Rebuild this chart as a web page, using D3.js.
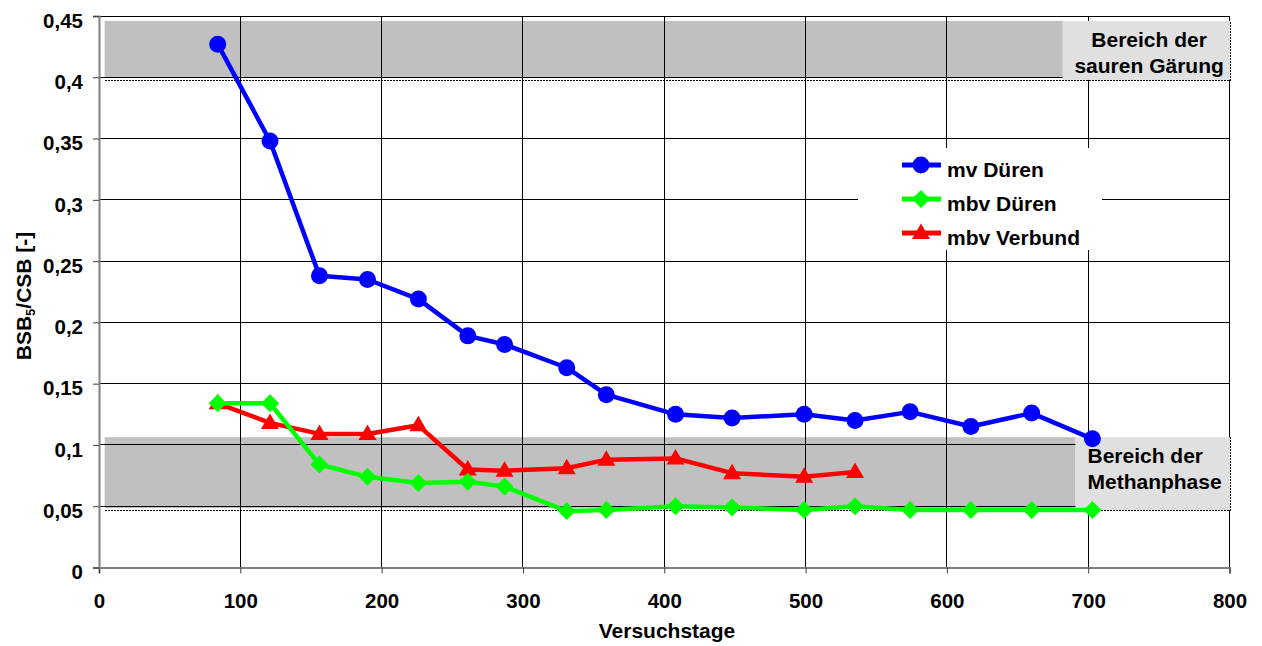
<!DOCTYPE html>
<html>
<head>
<meta charset="utf-8">
<script src="https://cdn.jsdelivr.net/npm/d3@7"></script>
<style>
  body { margin: 0; background: #fff; }
  text { font-family: "Liberation Sans", Arial, sans-serif; font-weight: bold; fill: #000; }
</style>
</head>
<body>
<div id="chart"></div>
<script>
// days of the trial
const days = [84, 121, 156, 190, 226, 261, 287, 331, 359, 408, 448, 499, 535, 574, 617, 660, 703];

// BSB5/CSB ratio per series
const mvDueren  = [0.427, 0.348, 0.238, 0.235, 0.219, 0.189, 0.182, 0.163, 0.141, 0.125, 0.122, 0.125, 0.120, 0.127, 0.115, 0.126, 0.105];
const mbvDueren = [0.134, 0.134, 0.084, 0.074, 0.069, 0.070, 0.066, 0.046, 0.047, 0.050, 0.049, 0.047, 0.050, 0.047, 0.047, 0.047, 0.047];
const mbvVerbund = [0.134, 0.118, 0.109, 0.109, 0.116, 0.080, 0.079, 0.081, 0.088, 0.089, 0.077, 0.074, 0.078];

const xTicks = [0, 100, 200, 300, 400, 500, 600, 700, 800];
const yTicks = [0, 0.05, 0.1, 0.15, 0.2, 0.25, 0.3, 0.35, 0.4, 0.45];

// shaded ranges: [x0, x1 (label box start), y0, y1]
const zones = [
  { x0: 4, x1: 682, y0: 0.3995, y1: 0.446, lines: ["Bereich der", "sauren Gärung"], align: "middle" },
  { x0: 4, x1: 691, y0: 0.0485, y1: 0.1063, lines: ["Bereich der", "Methanphase"], align: "start" }
];

const series = [
  { name: "mv Düren", color: "#0000ff", values: mvDueren, shape: "circle" },
  { name: "mbv Düren", color: "#00ff00", values: mbvDueren, shape: "diamond" },
  { name: "mbv Verbund", color: "#ff0000", values: mbvVerbund, shape: "triangle" }
];

const W = 1262, H = 646;
const svg = d3.select("#chart").append("svg").attr("width", W).attr("height", H);

const x = d3.scaleLinear().domain([0, 800]).range([99, 1229.5]);
const y = d3.scaleLinear().domain([0, 0.45]).range([567.5, 16]);

const fmt = d => d3.format("")(+d.toFixed(2)).replace(".", ",");

// bands
zones.forEach(z => {
  svg.append("rect")
    .attr("x", x(z.x0)).attr("y", y(z.y1))
    .attr("width", x(z.x1) - x(z.x0)).attr("height", y(z.y0) - y(z.y1))
    .attr("fill", "#c0c0c0");
});

// grid
const grid = svg.append("g").attr("shape-rendering", "crispEdges");
grid.selectAll(".gx").data(xTicks.slice(1)).enter().append("line")
  .attr("x1", d => x(d)).attr("x2", d => x(d))
  .attr("y1", y(0)).attr("y2", y(0.45))
  .attr("stroke", "#000").attr("stroke-width", 1);
grid.selectAll(".gy").data(yTicks.slice(1)).enter().append("line")
  .attr("x1", x(0)).attr("x2", x(800))
  .attr("y1", d => y(d)).attr("y2", d => y(d))
  .attr("stroke", "#000").attr("stroke-width", 1);

// label boxes and dotted edges
zones.forEach((z, i) => {
  svg.append("rect")
    .attr("x", x(z.x1)).attr("y", y(z.y1))
    .attr("width", x(800) - x(z.x1) + 1).attr("height", y(z.y0) - y(z.y1) + 2)
    .attr("fill", "#e0e0e0");
  svg.append("path")
    .attr("d", `M${x(z.x0)},${y(z.y0) + 2.5}H${x(800) + 1}V${y(z.y1)}`)
    .attr("fill", "none").attr("stroke", "#000").attr("stroke-width", 1)
    .attr("stroke-dasharray", "2,1").attr("shape-rendering", "crispEdges");
  const t = svg.append("text").attr("font-size", 21)
    .attr("text-anchor", z.align);
  const tx = z.align === "middle" ? (x(z.x1) + x(800)) / 2 + 3 : x(z.x1) + 12;
  const ty = i === 0 ? 47 : 463;
  z.lines.forEach((l, k) => {
    t.append("tspan").attr("x", tx).attr("y", ty + k * 26).text(l);
  });
});

// axes
const xAxis = svg.append("g").attr("transform", `translate(0,${y(0)})`)
  .call(d3.axisBottom(x).tickValues(xTicks).tickSize(6).tickPadding(24).tickFormat(d3.format("d")));
const yAxis = svg.append("g").attr("transform", `translate(${x(0)},0)`)
  .call(d3.axisLeft(y).tickValues(yTicks).tickSize(6).tickPadding(10).tickFormat(fmt));
[xAxis, yAxis].forEach(a => {
  a.select(".domain").attr("stroke", "#808080").attr("stroke-width", 2);
  a.selectAll(".tick line").attr("stroke", "#404040");
  a.selectAll("text").attr("font-size", 20.5).attr("font-family", "Liberation Sans, Arial, sans-serif")
    .attr("font-weight", "bold").attr("fill", "#000");
});
yAxis.selectAll("text").attr("dy", "0.55em").attr("x", -16);
xAxis.selectAll("text").attr("dy", "0.71em").attr("y", 26);

// axis titles
svg.append("text").attr("x", 667).attr("y", 638).attr("text-anchor", "middle")
  .attr("font-size", 21).text("Versuchstage");
const yt = svg.append("text").attr("transform", "translate(31,296) rotate(-90)")
  .attr("text-anchor", "middle").attr("font-size", 21);
yt.append("tspan").text("BSB");
yt.append("tspan").attr("font-size", 13).attr("dy", 4).text("5");
yt.append("tspan").attr("dy", -4).text("/CSB [-]");

// markers
function marker(sel, shape, color) {
  if (shape === "circle") {
    sel.append("circle").attr("r", 8.5).attr("fill", color);
  } else if (shape === "diamond") {
    sel.append("path").attr("d", "M0,-9L9,0L0,9L-9,0Z").attr("fill", color);
  } else {
    sel.append("path").attr("d", "M0,-9.5L9,6L-9,6Z").attr("fill", color);
  }
}

const line = d3.line().x(d => x(d[0])).y(d => y(d[1]));
series.slice().reverse().forEach(s => {
  const pts = s.values.map((v, i) => [days[i], v]);
  const g = svg.append("g");
  g.append("path").datum(pts).attr("d", line)
    .attr("fill", "none").attr("stroke", s.color).attr("stroke-width", 4.5)
    .attr("stroke-linejoin", "round");
  pts.forEach(p => {
    marker(g.append("g").attr("transform", `translate(${x(p[0])},${y(p[1])})`), s.shape, s.color);
  });
});

// legend
const lg = svg.append("g");
lg.append("rect").attr("x", 858).attr("y", 148).attr("width", 244).attr("height", 102).attr("fill", "#fff");
series.forEach((s, i) => {
  const ly = 165 + i * 34;
  lg.append("line").attr("x1", 902).attr("x2", 941).attr("y1", ly).attr("y2", ly)
    .attr("stroke", s.color).attr("stroke-width", 5);
  marker(lg.append("g").attr("transform", `translate(921,${ly})`), s.shape, s.color);
  lg.append("text").attr("x", 947).attr("y", ly + 12).attr("font-size", 21).text(s.name);
});
</script>
</body>
</html>
